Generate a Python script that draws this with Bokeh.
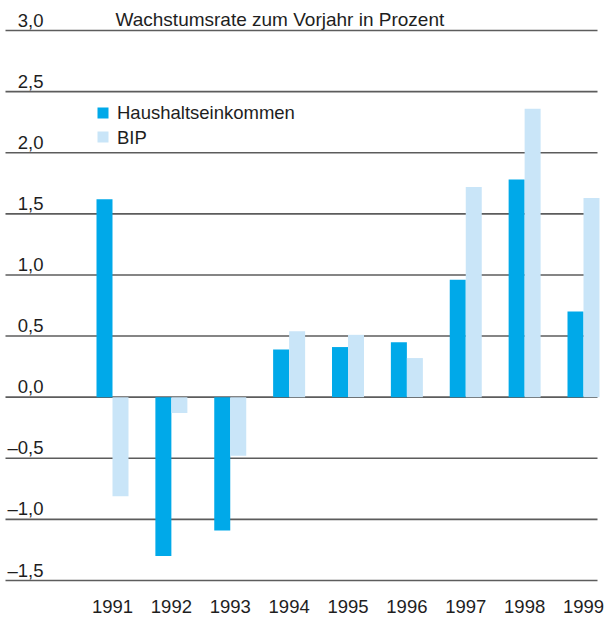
import numpy as np
from bokeh.plotting import figure
from bokeh.models import Range1d
from bokeh.core.properties import value
from bokeh.embed import file_html
from bokeh.resources import INLINE

# ---- data ----
years = ["1991", "1992", "1993", "1994", "1995", "1996", "1997", "1998", "1999"]
haushalt = [1.62, -1.30, -1.09, 0.39, 0.41, 0.45, 0.96, 1.78, 0.70]
bip = [-0.81, -0.13, -0.48, 0.54, 0.51, 0.32, 1.72, 2.36, 1.63]
tick_values = [3.0, 2.5, 2.0, 1.5, 1.0, 0.5, 0.0, -0.5, -1.0, -1.5]
tick_labels = ["3,0", "2,5", "2,0", "1,5", "1,0", "0,5", "0,0", "–0,5", "–1,0", "–1,5"]
title = "Wachstumsrate zum Vorjahr in Prozent"
series_names = ["Haushaltseinkommen", "BIP"]

# ---- layout helpers (figure pixels) ----
W, H = 605, 619
TOP_LINE_PX, BOTTOM_LINE_PX = 30.0, 580.0          # 3,0 and -1,5 grid lines
PPU = (BOTTOM_LINE_PX - TOP_LINE_PX) / 4.5          # pixels per unit
ZERO_PX = TOP_LINE_PX + 3.0 * PPU
GROUP0_PX, PX_PER_GROUP = 112.0, 58.875
TEXT_DY = 5.5                                       # svg text baseline compensation

def fx(px):
    return (px - GROUP0_PX) / PX_PER_GROUP

def fy(px):
    return (ZERO_PX - px) / PPU

def ty(px):
    return fy(px - TEXT_DY)

DARK = "#00A9E9"
LIGHT = "#C9E5F8"
TXT = "#1e1e1e"
FONT = value("Liberation Sans")
FS = value("18.5px")

p = figure(width=W, height=H, output_backend="svg", toolbar_location=None,
           x_range=Range1d(fx(0), fx(W)),
           y_range=Range1d(fy(H), fy(0)),
           x_axis_location=None, y_axis_location=None,
           min_border=0, outline_line_color=None,
           background_fill_color="white", border_fill_color="white")
p.grid.visible = False

# grid lines
p.segment(x0=fx(5), x1=fx(597), y0=tick_values, y1=tick_values,
          line_color="#5c5c5c", line_width=1.6)

# bars
idx = np.arange(len(years))
bw = 16.0 / PX_PER_GROUP
p.vbar(x=idx - bw / 2, width=bw, top=haushalt, bottom=0, fill_color=DARK, line_color=None)
p.vbar(x=idx + bw / 2, width=bw, top=bip, bottom=0, fill_color=LIGHT, line_color=None)

# tick labels (above their grid line)
p.text(x=fx(43), y=[v + (5.0 + TEXT_DY) / PPU for v in tick_values], text=tick_labels,
       text_align="right", text_baseline="alphabetic", text_font=FONT,
       text_font_size=FS, text_color=TXT)

# year labels
p.text(x=idx, y=ty(611), text=years, text_align="center", text_baseline="alphabetic",
       text_font=FONT, text_font_size=FS, text_color=TXT)

# title
p.text(x=[fx(115)], y=[ty(24.7)], text=[title], text_align="left",
       text_baseline="alphabetic", text_font=FONT, text_font_size=value("19px"),
       text_color=TXT)

# legend
p.rect(x=[fx(102.5)] * 2, y=[fy(112.5), fy(136.5)], width=11, height=11,
       width_units="screen", height_units="screen",
       fill_color=[DARK, LIGHT], line_color=None)
p.text(x=[fx(116.5)] * 2, y=[ty(117.5), ty(142.3)], text=series_names,
       text_align="left", text_baseline="alphabetic", text_font=FONT,
       text_font_size=FS, text_color=TXT)

open("out.html", "w").write(file_html(p, INLINE))
